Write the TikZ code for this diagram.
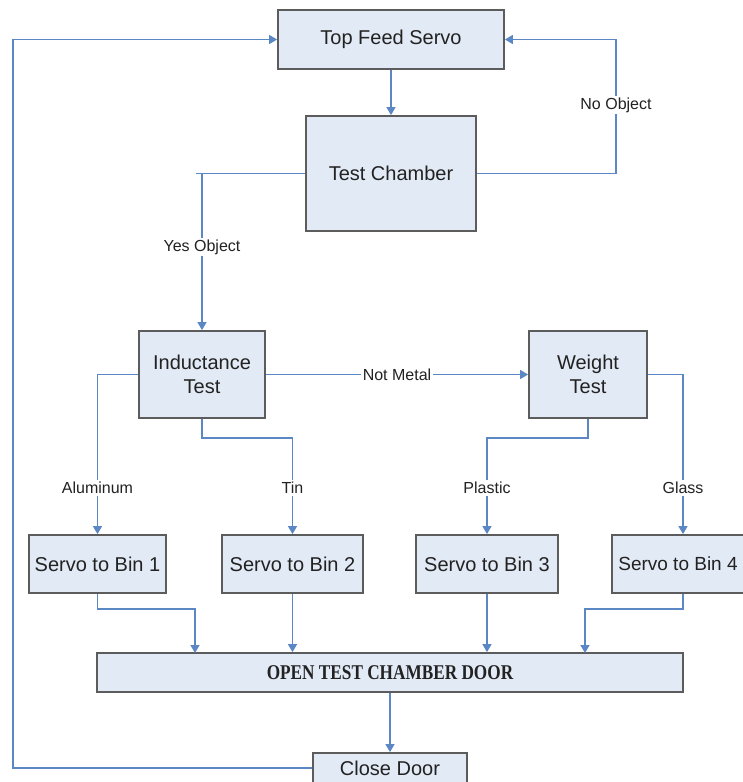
\documentclass[tikz,border=0pt]{standalone}
\usepackage{fontspec}
\usepackage{graphicx}
\setmainfont{Liberation Sans}
\newfontfamily\doorfont{Liberation Serif}
\usetikzlibrary{arrows.meta}
\definecolor{boxfill}{HTML}{E2EAF5}
\definecolor{boxline}{HTML}{5C5C5C}
\definecolor{connc}{HTML}{5B87C5}
\definecolor{txt}{HTML}{222222}
\begin{document}
\begin{tikzpicture}[x=1pt,y=-1pt,
  box/.style={draw=boxline, line width=1.8pt, fill=boxfill, align=center, inner sep=0pt,
    text=txt, font=\fontsize{20}{24}\selectfont},
  conn/.style={draw=connc, line width=1.5pt},
  arr/.style={conn, -{Triangle[width=9pt,length=8pt]}},
  lbl/.style={fill=white, inner sep=2pt, text=txt, font=\fontsize{16}{19}\selectfont}]
\useasboundingbox (0,0) rectangle (742,782);

% boxes
\node[box, minimum width=226pt, minimum height=59pt] (top) at (391,39.5) {Top Feed Servo};
\node[box, minimum width=170pt, minimum height=115pt] (tc) at (391,173.5) {Test Chamber};
\node[box, minimum width=126pt, minimum height=87pt] (ind) at (202,374.5) {Inductance\\Test};
\node[box, minimum width=118pt, minimum height=87pt] (wt) at (588,374.5) {Weight\\Test};
\node[box, minimum width=137pt, minimum height=58pt] (b1) at (97.5,564) {Servo to Bin 1};
\node[box, minimum width=141pt, minimum height=58pt] (b2) at (292.5,564) {Servo to Bin 2};
\node[box, minimum width=142pt, minimum height=58pt] (b3) at (487,564) {Servo to Bin 3};
\node[box, minimum width=142pt, minimum height=58pt, font=\fontsize{19}{23}\selectfont] (b4) at (683,564) {Servo to Bin 4\kern10pt};
\node[box, minimum width=586pt, minimum height=39pt] (door) at (390,672.5)
  {\doorfont\bfseries\fontsize{21}{24}\selectfont\scalebox{0.82}[1]{OPEN TEST CHAMBER DOOR}};
\node[box, minimum width=154pt, minimum height=30pt] (cd) at (390,768) {Close Door};

% named free ends
\coordinate (nobend) at (616,39.5);
\coordinate (loopbend) at (13,39.5);
\coordinate (d1) at (195,653);
\coordinate (d4) at (585,653);

% connectors
\draw[arr] (top) -- (tc);
\draw[arr] (tc.east) -| (nobend) -- (top.east);
\node[lbl] at (616,105) {No Object};

\draw[conn] (tc.west) -- (196,173.5);
\draw[arr] (tc.west) -| (ind.north);
\node[lbl] at (202,247) {Yes Object};

\draw[arr] (ind.east) -- node[lbl] {Not Metal} (wt.west);

\draw[arr] (ind.west) -| (b1.north);
\node[lbl] at (97.5,488) {Aluminum};
\draw[arr] (ind.south) -- ++(0,19) -| (b2.north);
\node[lbl] at (292.5,488) {Tin};
\draw[arr] (wt.south) -- ++(0,19) -| (b3.north);
\node[lbl] at (487,488) {Plastic};
\draw[arr] (wt.east) -| (b4.north);
\node[lbl] at (683,488) {Glass};

\draw[arr] (b1.south) -- ++(0,15) -| (d1);
\draw[arr] (b2.south) -- (b2.south |- door.north);
\draw[arr] (b3.south) -- (b3.south |- door.north);
\draw[arr] (b4.south) -- ++(0,15) -| (d4);

\draw[arr] (door) -- (cd);
\draw[arr] (cd.west) -| (loopbend) -- (top.west);
\end{tikzpicture}
\end{document}
